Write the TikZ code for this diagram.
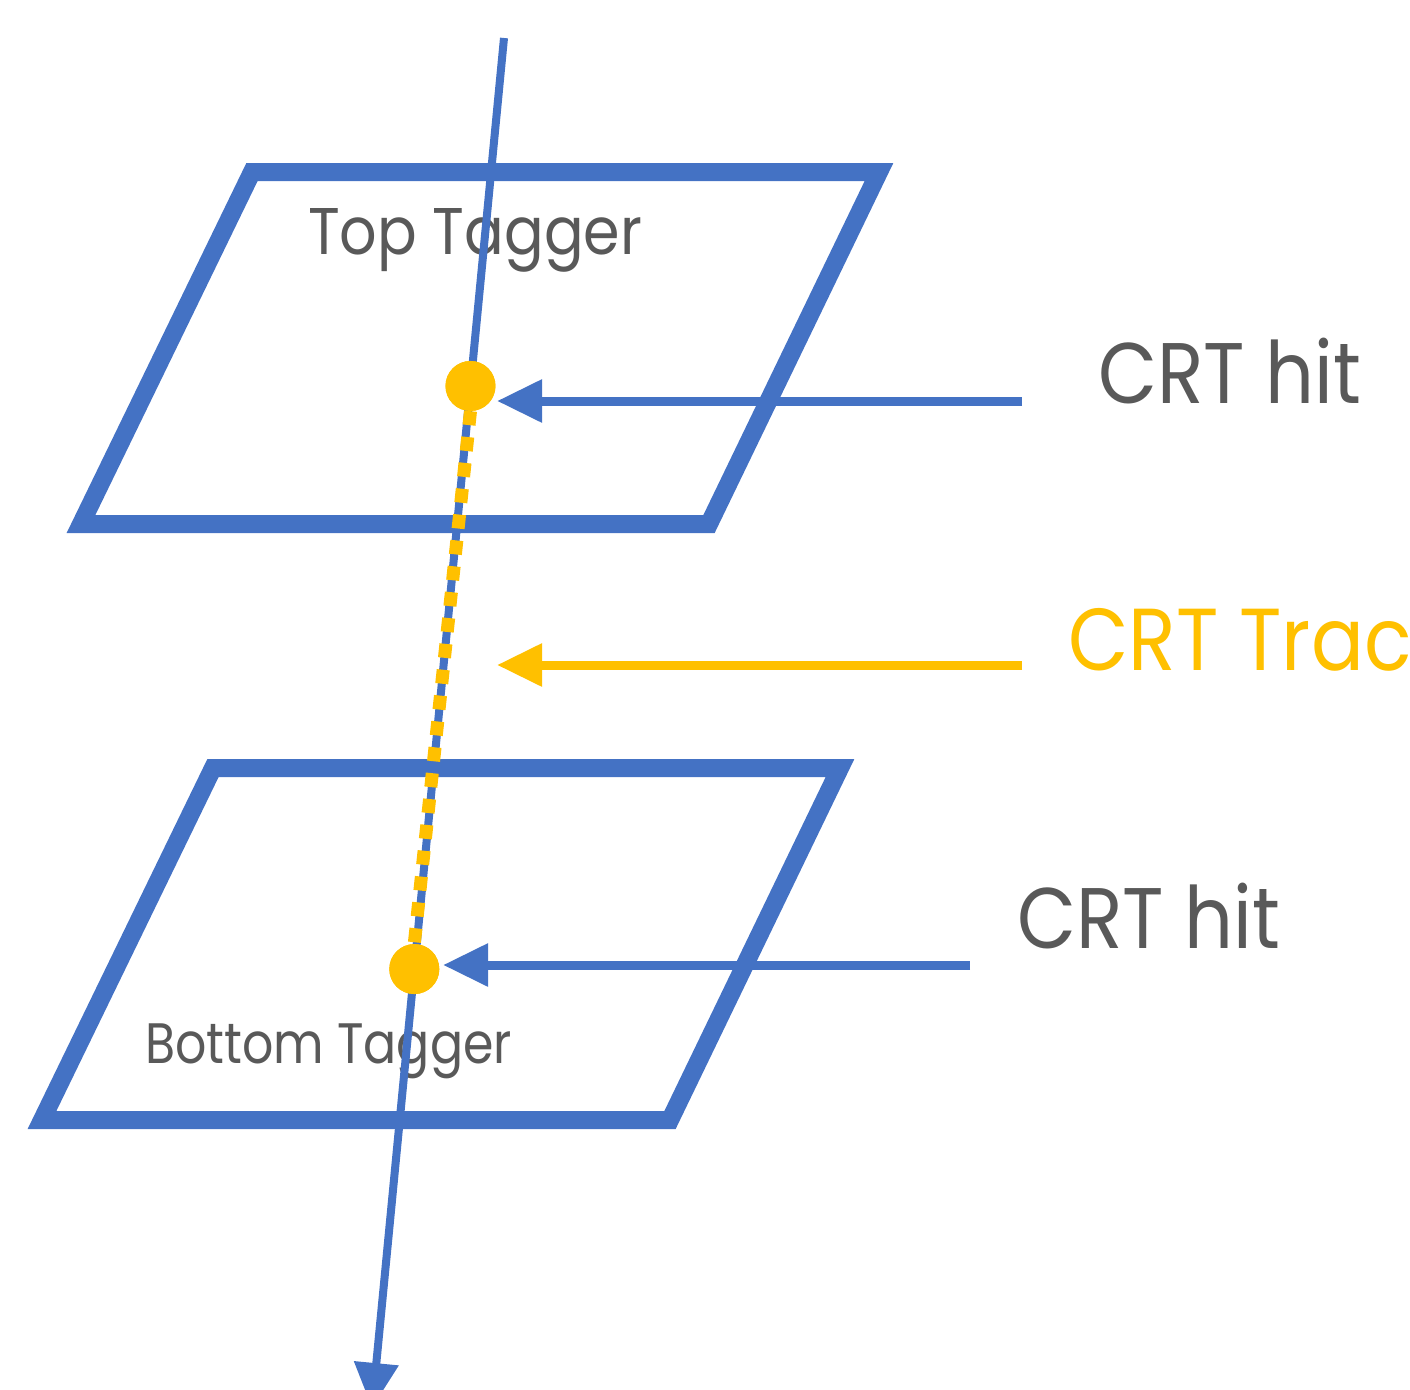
\documentclass[tikz,border=0pt]{standalone}
\usepackage{fontspec}
\setmainfont{Poppins}
\newfontfamily\lblfont[FakeStretch=0.89]{Poppins}
\newfontfamily\lblfontnarrow[FakeStretch=0.86]{Poppins}
\usetikzlibrary{arrows.meta}
\definecolor{tagblue}{HTML}{4472C4}
\definecolor{trackgold}{HTML}{FFC000}
\definecolor{labelgray}{HTML}{595959}
\tikzset{
  tagger/.style={draw=tagblue, line width=18pt, miter limit=10, line join=miter},
  muon/.style={draw=tagblue, line width=8pt},
  crttrack/.style={draw=trackgold, line width=13pt, dash pattern=on 14pt off 12pt},
  hitdot/.style={circle, fill=trackgold, minimum size=50pt, inner sep=0pt},
  pointer/.style={line width=9pt, -{Triangle[length=45pt, width=41pt]}},
  label/.style={anchor=base west, inner sep=0pt, text=labelgray},
}
\begin{document}
\begin{tikzpicture}[x=1pt, y=-1pt]
  \useasboundingbox (0,0) rectangle (1410,1389);
  \clip (0,0) rectangle (1410,1389);

  % the two tagger planes
  \draw[tagger] (252,172) -- (879,172) -- (709,524) -- (81,524) -- cycle;
  \draw[tagger] (213,768) -- (840,768) -- (670,1120) -- (42,1120) -- cycle;

  % plane labels
  \node[label, font=\lblfont\fontsize{66}{66}\selectfont] (toplbl) at (308,254) {Top Tagger};
  \node[label, font=\lblfontnarrow\fontsize{57}{57}\selectfont] (botlbl) at (145,1063) {Bottom Tagger};

  % muon path with the two hits on it
  \coordinate (mstart) at (504,38);
  \coordinate (mend) at (372,1408);
  \draw[muon, -{Triangle[length=45pt, width=43pt]}] (mstart) -- (mend);
  \path (mstart) -- (mend)
    node[hitdot, pos=0.2540] (hittop) {}
    node[hitdot, pos=0.6796] (hitbot) {};
  \draw[crttrack] (hittop.south) -- (hitbot.north);
  \node[hitdot] at (hittop) {};
  \node[hitdot] at (hitbot) {};

  % callouts
  \coordinate (hittopfrom) at (1022,401);
  \coordinate (hittopto) at (497,401);
  \coordinate (trackfrom) at (1022,665);
  \coordinate (trackto) at (497,665);
  \coordinate (hitbotfrom) at (970,965);
  \coordinate (hitbotto) at (443,965);
  \draw[pointer, tagblue] (hittopfrom) -- (hittopto);
  \draw[pointer, trackgold] (trackfrom) -- (trackto);
  \draw[pointer, tagblue] (hitbotfrom) -- (hitbotto);

  \node[label, font=\lblfont\fontsize{86}{86}\selectfont] (hittoplbl) at (1098,403) {CRT hit};
  \node[label, font=\lblfont\fontsize{88}{88}\selectfont, text=trackgold] (tracklbl) at (1068,670) {CRT Track};
  \node[label, font=\lblfont\fontsize{86}{86}\selectfont] (hitbotlbl) at (1017,948) {CRT hit};
\end{tikzpicture}
\end{document}
